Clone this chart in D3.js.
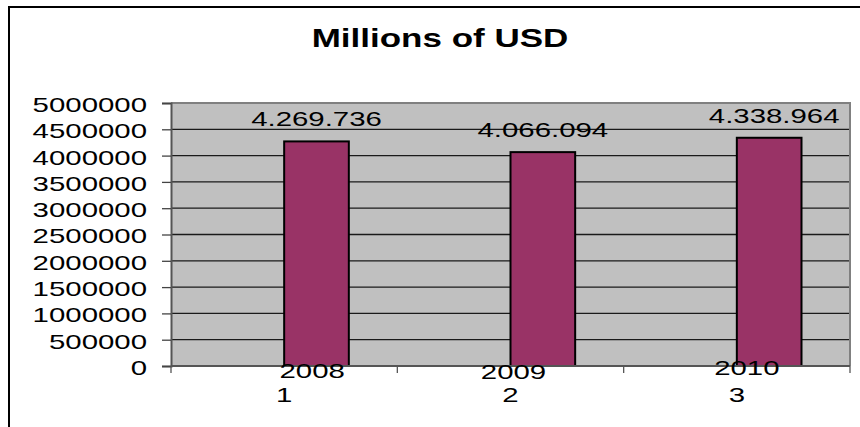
<html>
  <head>
	<meta charset="utf-8">
	<title>Millions of USD</title>
	<script src="https://d3js.org/d3.v7.min.js"></script>
	<style>
	  body { margin: 0; background: #fff; }
	  text { font-family: "Liberation Sans", Arial, sans-serif; fill: #000; }
	</style>
  </head>
  <body>

  <svg width="860" height="427"></svg>

	<script type="text/javascript">

    // data
    var indexLabels = ["1", "2", "3"];
    var yearLabels = ["2008", "2009", "2010"];
    var values = [4269736, 4066094, 4338964];
    var yTicks = [0, 500000, 1000000, 1500000, 2000000, 2500000, 3000000, 3500000, 4000000, 4500000, 5000000];

    // year labels sit a bit off-centre in the original
    var yearShift = [[28, 0], [3, 1], [10, -3]];

    var sx = 1.4; // text in the picture is stretched sideways

    var plot = {left: 171, top: 103, right: 850, bottom: 366};

    var svg = d3.select("svg");

    // outer chart border (only top and left show)
    svg.append("path")
      .attr("d", "M9,428 L9,7 L861,7")
      .attr("fill", "none")
      .attr("stroke", "#000")
      .attr("stroke-width", 2);

    // title
    svg.append("text")
      .attr("transform", "translate(440,47) scale(" + sx + ",1)")
      .attr("text-anchor", "middle")
      .style("font-size", "25px")
      .style("font-weight", "bold")
      .text("Millions of USD");

    var escalaX = d3.scaleBand().domain(indexLabels).range([plot.left, plot.right]);
    // two slots per category, only the second one carries a bar
    var escalaSerie = d3.scaleBand().domain(["vazio", "valor"])
      .range([0, escalaX.bandwidth()]).paddingOuter(0.75);
    var escalaY = d3.scaleLinear().domain([0, 5000000]).range([plot.bottom, plot.top]);

    // plot background
    svg.append("rect")
      .attr("x", plot.left).attr("y", plot.top)
      .attr("width", plot.right - plot.left).attr("height", plot.bottom - plot.top)
      .attr("fill", "#c0c0c0");

    // gridlines
    svg.append("g").selectAll("line")
      .data(yTicks.slice(1, -1))
      .enter().append("line")
      .attr("x1", plot.left).attr("x2", plot.right)
      .attr("y1", d => escalaY(d)).attr("y2", d => escalaY(d))
      .attr("stroke", "#1a1a1a")
      .attr("stroke-width", 1.3);

    // plot border top / right
    svg.append("path")
      .attr("d", "M" + plot.left + "," + plot.top + " L" + plot.right + "," + plot.top + " L" + plot.right + "," + plot.bottom)
      .attr("fill", "none")
      .attr("stroke", "#808080")
      .attr("stroke-width", 2);

    // bars
    svg.append("g").selectAll("rect")
      .data(values)
      .enter().append("rect")
      .attr("x", (d, i) => escalaX(indexLabels[i]) + escalaSerie("valor"))
      .attr("y", d => escalaY(d))
      .attr("width", escalaSerie.bandwidth())
      .attr("height", d => escalaY(0) - escalaY(d))
      .attr("fill", "#993366")
      .attr("stroke", "#000")
      .attr("stroke-width", 2);

    // value labels, dots as thousands separator
    var formato = d3.formatLocale({decimal: ",", thousands: ".", grouping: [3], currency: ["", ""]}).format(",d");
    svg.append("g").selectAll("text")
      .data(values)
      .enter().append("text")
      .attr("transform", (d, i) => "translate(" + (escalaX(indexLabels[i]) + escalaSerie("valor") + escalaSerie.bandwidth() / 2 + (i == 2 ? 5 : 0)) + "," + (escalaY(d) - 15) + ") scale(" + sx + ",1)")
      .attr("text-anchor", "middle")
      .style("font-size", "21px")
      .text(d => formato(d));

    // Plotar o eixo Y
    var eixoY = d3.axisLeft(escalaY).tickValues(yTicks).tickSize(9).tickFormat(d3.format("d"));
    var grupoDoEixoY = svg.append("g").attr("transform", "translate(" + plot.left + ",0)");
    grupoDoEixoY.call(eixoY);
    grupoDoEixoY.select(".domain").attr("stroke", "#555").attr("stroke-width", 2);
    grupoDoEixoY.selectAll(".tick line").attr("stroke", "#444").attr("stroke-width", 1.3);
    grupoDoEixoY.selectAll(".tick text")
      .attr("x", -24 / sx)
      .attr("dy", "0.4em")
      .attr("transform", "scale(" + sx + ",1)")
      .style("font-size", "21px")
      .style("font-family", "'Liberation Sans', Arial, sans-serif")
      .attr("fill", "#000");

    // Plotar o eixo X
    var limites = escalaX.domain().map(d => escalaX(d)).concat([plot.right]);
    svg.append("line")
      .attr("x1", plot.left).attr("x2", plot.right)
      .attr("y1", plot.bottom).attr("y2", plot.bottom)
      .attr("stroke", "#555").attr("stroke-width", 2);
    svg.append("g").selectAll("line")
      .data(limites)
      .enter().append("line")
      .attr("x1", d => d).attr("x2", d => d)
      .attr("y1", plot.bottom).attr("y2", plot.bottom + 7)
      .attr("stroke", "#555").attr("stroke-width", 1.3);

    // category labels: year (first line) and index (second line)
    svg.append("g").selectAll("text")
      .data(yearLabels)
      .enter().append("text")
      .attr("transform", (d, i) => "translate(" + (escalaX(indexLabels[i]) + escalaX.bandwidth() / 2 + yearShift[i][0]) + "," + (plot.bottom + 12 + yearShift[i][1]) + ") scale(" + sx + ",1)")
      .attr("text-anchor", "middle")
      .style("font-size", "21px")
      .text(d => d);

    svg.append("g").selectAll("text")
      .data(indexLabels)
      .enter().append("text")
      .attr("transform", d => "translate(" + (escalaX(d) + escalaX.bandwidth() / 2) + "," + (plot.bottom + 36) + ") scale(" + sx + ",1)")
      .attr("text-anchor", "middle")
      .style("font-size", "21px")
      .text(d => d);

	</script>
  </body>

</html>
